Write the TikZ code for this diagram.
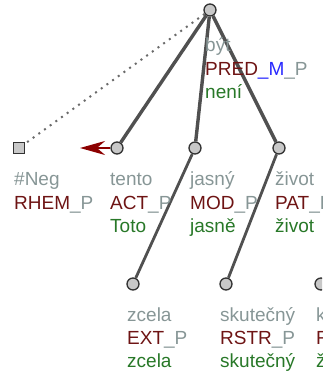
\documentclass[tikz,border=0pt]{standalone}
\usepackage{fontspec}
\setmainfont{Liberation Sans}
\usetikzlibrary{arrows.meta}
\definecolor{lemc}{RGB}{135,150,150}
\definecolor{func}{RGB}{110,20,20}
\definecolor{formc}{RGB}{40,120,40}
\definecolor{bluec}{RGB}{40,40,255}
\definecolor{edgec}{RGB}{80,80,80}
\definecolor{nodefill}{RGB}{200,200,200}
\definecolor{nodeborder}{RGB}{50,50,50}
\definecolor{arrc}{RGB}{140,0,0}
\newcommand{\lm}[1]{\textcolor{lemc}{#1}}
\newcommand{\fn}[1]{\textcolor{func}{#1}}
\newcommand{\fm}[1]{\textcolor{formc}{#1}}
\newcommand{\bl}[1]{\textcolor{bluec}{#1}}
\begin{document}
\begin{tikzpicture}[x=1pt,y=-1pt,
  tnode/.style={circle,draw=nodeborder,fill=nodefill,line width=1.3pt,minimum size=12pt,inner sep=0pt},
  tsq/.style={rectangle,draw=nodeborder,fill=nodefill,line width=1.3pt,minimum size=10.5pt,inner sep=0pt},
  edge/.style={draw=edgec,line width=3.4pt},
  subedge/.style={draw=edgec,line width=2.8pt},
  dotedge/.style={draw=edgec!85,line width=2pt,dash pattern=on 2pt off 5pt},
  txt/.style={anchor=base west,inner sep=0pt,font=\fontsize{19}{23}\selectfont}]
\useasboundingbox (0,0) rectangle (322,374);
\clip (0,0) rectangle (322,374);
% nodes
\node[tnode] (root) at (210,10) {};
\node[tsq] (neg) at (19,148) {};
\node[tnode] (tento) at (117,148) {};
\node[tnode] (jasny) at (195,148) {};
\node[tnode] (zivot) at (279,148) {};
\node[tnode] (zcela) at (133,284) {};
\node[tnode] (skut) at (226,284) {};
\node[tnode] (kk) at (321,284) {};
% edges
\draw[dotedge] (root) -- (neg);
\draw[edge] (root) -- (tento);
\draw[edge] (root) -- (jasny);
\draw[edge] (root) -- (zivot);
\draw[subedge] (jasny) -- (zcela);
\draw[subedge] (zivot) -- (skut);
\coordinate (arrend) at (80,148);
\draw[draw=arrc,line width=2pt,-{Stealth[length=25pt,width=14pt,inset=8pt,fill=arrc]}] (tento) -- (arrend);
% labels
\node[txt] (l1) at (205,52) {\lm{být}};
\node[txt] (f1) at (205,76) {\fn{PRED}\bl{\_M}\lm{\_P}};
\node[txt] (w1) at (205,99) {\fm{není}};
\node[txt] (l2) at (14,185) {\lm{\#Neg}};
\node[txt] (f2) at (14,209) {\fn{RHEM}\lm{\_P}};
\node[txt] (l3) at (110,185) {\lm{tento}};
\node[txt] (f3) at (110,209) {\fn{ACT}\lm{\_P}};
\node[txt] (w3) at (110,232) {\fm{Toto}};
\node[txt] (l4) at (190,185) {\lm{jasný}};
\node[txt] (f4) at (190,209) {\fn{MOD}\lm{\_P}};
\node[txt] (w4) at (190,232) {\fm{jasně}};
\node[txt] (l5) at (275,185) {\lm{život}};
\node[txt] (f5) at (275,209) {\fn{PAT}\lm{\_P}};
\node[txt] (w5) at (275,232) {\fm{život}};
\node[txt] (l6) at (127,321) {\lm{zcela}};
\node[txt] (f6) at (127,344) {\fn{EXT}\lm{\_P}};
\node[txt] (w6) at (127,367) {\fm{zcela}};
\node[txt] (l7) at (220,321) {\lm{skutečný}};
\node[txt] (f7) at (220,344) {\fn{RSTR}\lm{\_P}};
\node[txt] (w7) at (220,367) {\fm{skutečný}};
\node[txt] (l8) at (316,321) {\lm{k}};
\node[txt] (f8) at (316,344) {\fn{R}};
\node[txt] (w8) at (316,367) {\fm{ž}};
\end{tikzpicture}
\end{document}
